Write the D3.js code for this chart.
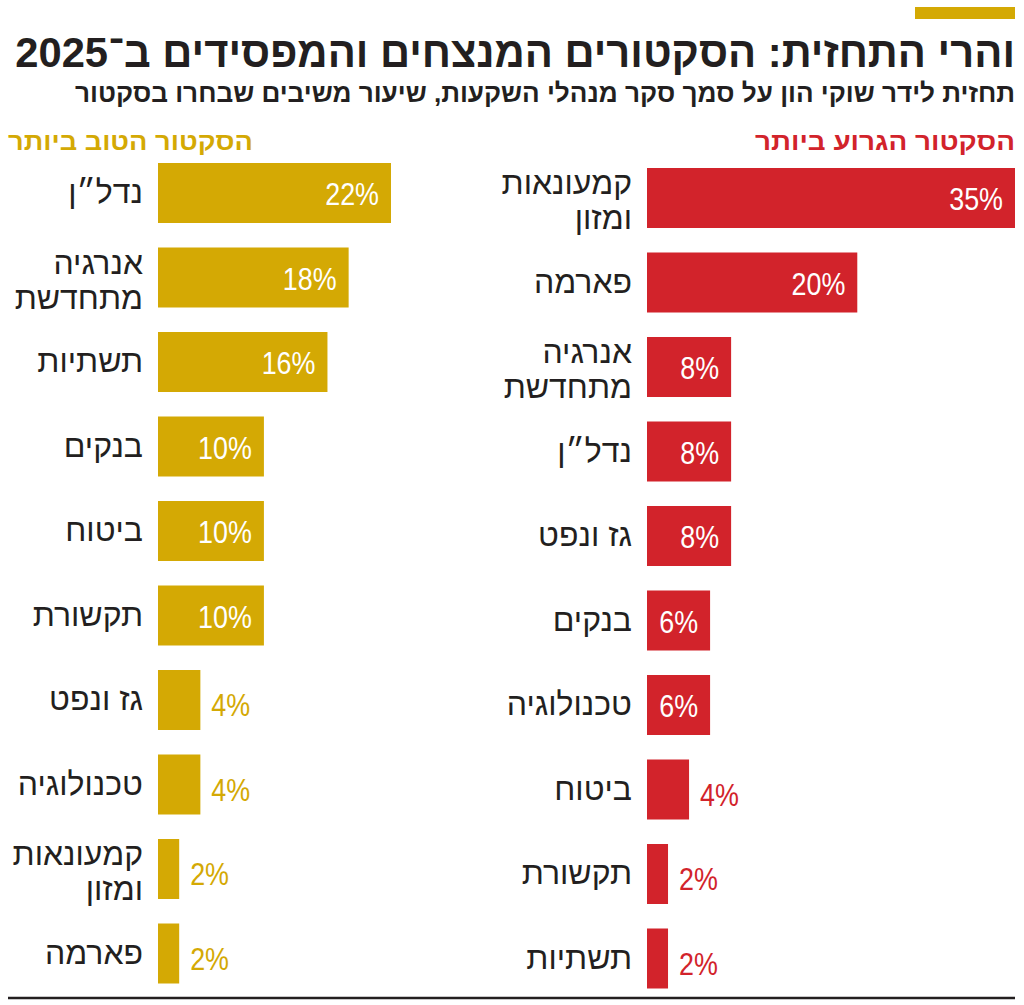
<!DOCTYPE html>
<html><head><meta charset="utf-8">
<script src="https://cdn.jsdelivr.net/npm/d3@7"></script>
<style>
html,body{margin:0;padding:0;background:#fff;}
svg{display:block;}
</style></head>
<body>
<script>
const titleText = "והרי התחזית: הסקטורים המנצחים והמפסידים ב־2025";
const subtitleText = "תחזית לידר שוקי הון על סמך סקר מנהלי השקעות, שיעור משיבים שבחרו בסקטור";
const bestHeader = "הסקטור הטוב ביותר";
const worstHeader = "הסקטור הגרוע ביותר";
const bestCats = ["נדל״ן","אנרגיה מתחדשת","תשתיות","בנקים","ביטוח","תקשורת","גז ונפט","טכנולוגיה","קמעונאות ומזון","פארמה"];
const bestVals = [22,18,16,10,10,10,4,4,2,2];
const worstCats = ["קמעונאות ומזון","פארמה","אנרגיה מתחדשת","נדל״ן","גז ונפט","בנקים","טכנולוגיה","ביטוח","תקשורת","תשתיות"];
const worstVals = [35,20,8,8,8,6,6,4,2,2];

const W = 1024, H = 1005;
const GOLD = "#D4A904", RED = "#D2232B", INK = "#231F20";
const svg = d3.select("body").append("svg").attr("width", W).attr("height", H);

svg.append("rect").attr("x", 915).attr("y", 7).attr("width", 100).attr("height", 12).attr("fill", GOLD);

const title = svg.append("text").attr("x", 0).attr("y", 0).attr("text-anchor", "end")
  .attr("font-family", "Liberation Sans, Arial, sans-serif").attr("font-weight", 700)
  .attr("font-size", 43).attr("fill", INK).text(titleText);
const tw = title.node().getComputedTextLength();
title.attr("transform", `translate(1015,67) scale(${1000 / tw},1)`);

svg.append("text").attr("x", 1015).attr("y", 102).attr("text-anchor", "end")
  .attr("font-family", "Liberation Sans, Arial, sans-serif").attr("font-weight", 700)
  .attr("font-size", 26).attr("fill", INK)
  .attr("textLength", 940).attr("lengthAdjust", "spacingAndGlyphs").text(subtitleText);

const STEP = 84.5, BAR_H = 60;

function panel(opts) {
  const {cats, vals, x0, y0, pxMax, vMax, color, header, hx, hLen} = opts;
  const g = svg.append("g");
  g.append("text").attr("x", hx).attr("y", 150).attr("text-anchor", "end")
    .attr("font-family", "Liberation Sans, Arial, sans-serif").attr("font-weight", 700)
    .attr("font-size", 24).attr("fill", color)
    .attr("textLength", hLen).attr("lengthAdjust", "spacingAndGlyphs").text(header);

  const x = d3.scaleLinear().domain([0, vMax]).range([x0, x0 + pxMax]);
  const y = d3.scaleLinear().domain([0, 1]).range([y0, y0 + STEP]);
  const rows = g.selectAll("g.row").data(cats.map((c, i) => ({c, v: vals[i], i}))).join("g");
  rows.append("rect")
    .attr("x", x(0)).attr("y", d => y(d.i))
    .attr("width", d => x(d.v) - x(0)).attr("height", BAR_H)
    .attr("fill", color);
  rows.append("text")
    .attr("x", d => d.v > 5 ? x(d.v) - 12 : x(d.v) + 11)
    .attr("y", d => y(d.i) + BAR_H / 2 + (d.v > 5 ? 12 : 16))
    .attr("text-anchor", d => d.v > 5 ? "end" : "start")
    .attr("font-family", "Liberation Sans, sans-serif").attr("font-weight", 400)
    .attr("font-size", 32)
    .attr("fill", d => d.v > 5 ? "#fff" : color)
    .text(d => d.v + "%")
    .each(function() {
      const len = this.getComputedTextLength();
      d3.select(this).attr("textLength", len * 0.84).attr("lengthAdjust", "spacingAndGlyphs");
    });
  rows.each(function(d) {
    const lines = d.c.length > 10 ? d.c.split(" ") : [d.c];
    const cy = y(d.i) + BAR_H / 2;
    const t = d3.select(this).append("text")
      .attr("text-anchor", "end")
      .attr("font-family", "Liberation Sans, Arial, sans-serif")
      .attr("font-size", 32).attr("fill", INK);
    if (lines.length === 1) {
      t.attr("x", x0 - 15).attr("y", cy + 10).text(lines[0]);
    } else {
      lines.forEach((l, k) => {
        t.append("tspan").attr("x", x0 - 15).attr("y", cy - 4 + k * 35).text(l);
      });
    }
  });
}

panel({cats: bestCats, vals: bestVals, x0: 158, y0: 163, pxMax: 233, vMax: 22, color: GOLD, header: bestHeader, hx: 253, hLen: 245});
panel({cats: worstCats, vals: worstVals, x0: 647, y0: 168, pxMax: 368, vMax: 35, color: RED, header: worstHeader, hx: 1015, hLen: 260});

svg.append("line").attr("x1", 8).attr("x2", 1015).attr("y1", 998).attr("y2", 998)
  .attr("stroke", INK).attr("stroke-width", 2.5);
</script>
</body></html>
